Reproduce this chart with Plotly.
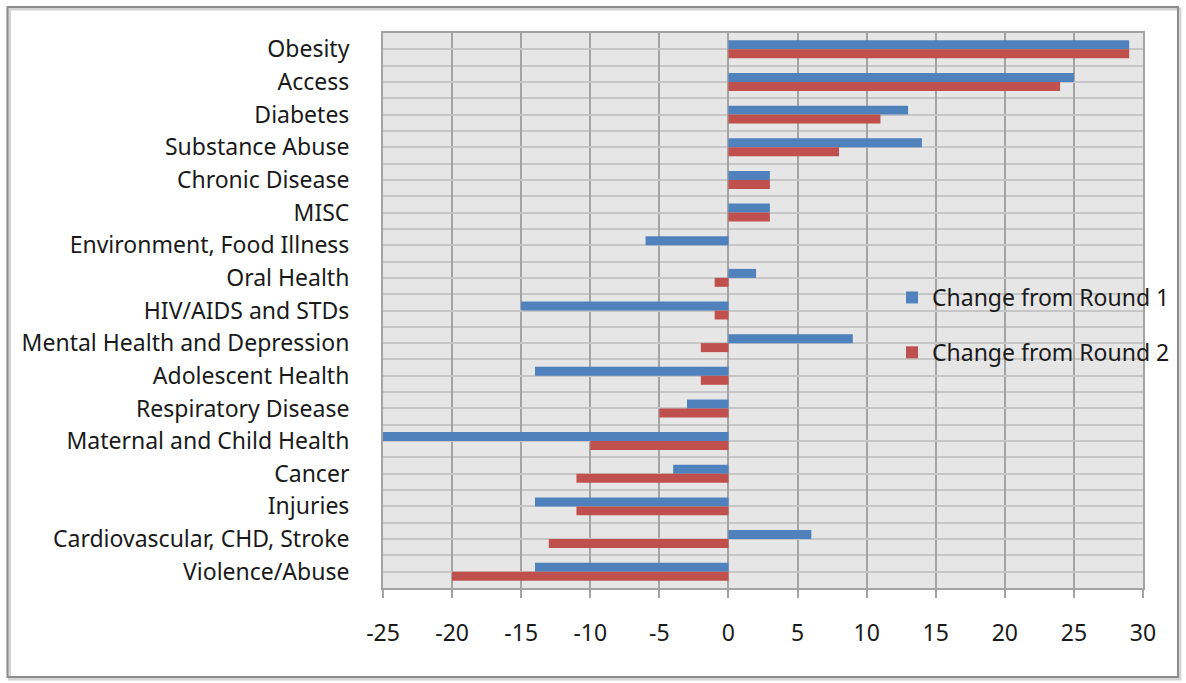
import plotly.graph_objects as go

categories = ["Obesity", "Access", "Diabetes", "Substance Abuse", "Chronic Disease", "MISC",
              "Environment, Food Illness", "Oral Health", "HIV/AIDS and STDs",
              "Mental Health and Depression", "Adolescent Health", "Respiratory Disease",
              "Maternal and Child Health", "Cancer", "Injuries",
              "Cardiovascular, CHD, Stroke", "Violence/Abuse"]
round1 = [29, 25, 13, 14, 3, 3, -6, 2, -15, 9, -14, -3, -25, -4, -14, 6, -14]
round2 = [29, 24, 11, 8, 3, 3, 0, -1, -1, -2, -2, -5, -10, -11, -11, -13, -20]
series_names = ["Change from Round 1", "Change from Round 2"]
x_ticks = [-25, -20, -15, -10, -5, 0, 5, 10, 15, 20, 25, 30]
x_tick_labels = [str(v) for v in x_ticks]

W, H = 1186, 683
L, R, T, B = 383, 1144, 33, 588

pos = list(range(len(categories)))
FONT = "Noto Sans"
FS = 23

fig = go.Figure()
fig.add_trace(go.Bar(y=pos, x=round1, orientation="h", name=series_names[0], legendgroup="a",
                     marker=dict(color="#4f81bd", line=dict(width=0))))
fig.add_trace(go.Bar(y=pos, x=round2, orientation="h", name=series_names[1], legendgroup="b",
                     marker=dict(color="#c0504d", line=dict(width=0))))

def px_x(p):
    return (p - L) / (R - L)
def px_y(p):
    return 1 - (p - T) / (B - T)

fig.update_layout(
    width=W, height=H,
    margin=dict(l=L, r=W - R, t=T, b=H - B, pad=0),
    paper_bgcolor="white", plot_bgcolor="#e6e6e6",
    barmode="group", bargap=0.45, bargroupgap=0,
    font=dict(family=FONT, size=FS, color="#1a1a1a"),
    legend=dict(x=px_x(892), y=px_y(276), xanchor="left", yanchor="top",
                bgcolor="rgba(0,0,0,0)", font=dict(size=FS), tracegroupgap=22,
                itemwidth=30, traceorder="grouped"),
    showlegend=True,
)
fig.update_xaxes(range=[-25, 30], tickvals=x_ticks, ticktext=x_tick_labels,
                 showgrid=True, gridcolor="#a3a3a3", gridwidth=2,
                 zeroline=True, zerolinecolor="#a3a3a3", zerolinewidth=2,
                 showline=True, linecolor="#a3a3a3", linewidth=2, mirror=True,
                 ticks="outside", ticklen=8, tickcolor="#a3a3a3", tickwidth=2,
                 ticklabelstandoff=15, tickfont=dict(size=FS))
fig.update_yaxes(range=[len(categories) - 0.5, -0.5], tickvals=pos, ticktext=categories,
                 showgrid=True, gridcolor="#c6c6c6", gridwidth=2,
                 minor=dict(tickmode="linear", tick0=0.5, dtick=1, showgrid=True,
                            gridcolor="#c6c6c6", gridwidth=2, ticks=""),
                 showline=True, linecolor="#a3a3a3", linewidth=2, mirror=True,
                 ticks="", ticklabelstandoff=27, tickfont=dict(size=FS), zeroline=False)

# outer chart frame with soft shadow
fig.add_shape(type="rect", xref="paper", yref="paper",
              x0=px_x(9), x1=px_x(1181), y0=px_y(9), y1=px_y(679),
              line=dict(color="#d4d4d4", width=3), layer="below")
fig.add_shape(type="rect", xref="paper", yref="paper",
              x0=px_x(7), x1=px_x(1179), y0=px_y(7), y1=px_y(677),
              line=dict(color="#8c8c8c", width=2), layer="below")

fig.write_html("out.html", config={"displayModeBar": False},
               post_script="document.body.style.margin='0px';")
